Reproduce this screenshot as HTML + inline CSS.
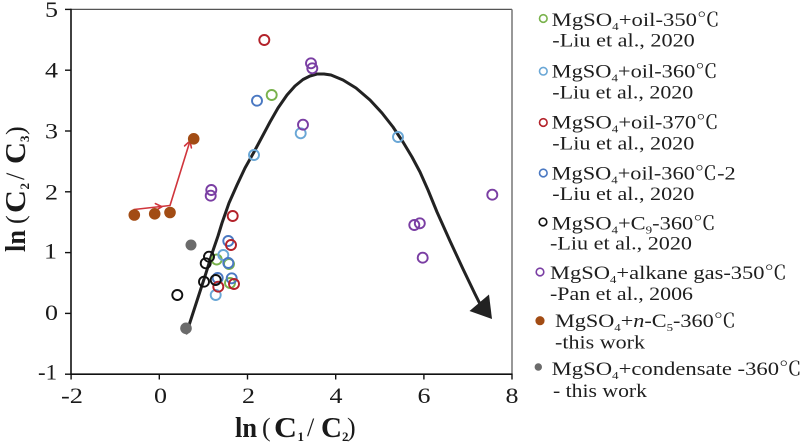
<!DOCTYPE html>
<html>
<head>
<meta charset="utf-8">
<style>
html,body{margin:0;padding:0;background:#fff;}
svg{display:block;}
text{font-family:"Liberation Serif","Noto Serif CJK SC",serif;}
</style>
</head>
<body>
<svg width="800" height="444" viewBox="0 0 800 444" xmlns="http://www.w3.org/2000/svg">
<rect x="0" y="0" width="800" height="444" fill="#fff"/>

<!-- frame -->
<line x1="71" y1="9.4" x2="512" y2="9.4" stroke="#555" stroke-width="1.3"/>
<line x1="512" y1="9.4" x2="512" y2="374.2" stroke="#777" stroke-width="1.5"/>
<line x1="71" y1="8.8" x2="71" y2="374.8" stroke="#111" stroke-width="1.6"/>
<line x1="70.2" y1="374.2" x2="512.5" y2="374.2" stroke="#111" stroke-width="1.6"/>

<!-- y ticks -->
<g stroke="#111" stroke-width="1.4">
<line x1="65" y1="9.4" x2="71" y2="9.4"/>
<line x1="65" y1="70.2" x2="71" y2="70.2"/>
<line x1="65" y1="131" x2="71" y2="131"/>
<line x1="65" y1="191.8" x2="71" y2="191.8"/>
<line x1="65" y1="252.6" x2="71" y2="252.6"/>
<line x1="65" y1="313.4" x2="71" y2="313.4"/>
<line x1="65" y1="374.2" x2="71" y2="374.2"/>
<!-- x ticks -->
<line x1="71.1" y1="374" x2="71.1" y2="379.5"/>
<line x1="159.3" y1="374" x2="159.3" y2="379.5"/>
<line x1="247.5" y1="374" x2="247.5" y2="379.5"/>
<line x1="335.7" y1="374" x2="335.7" y2="379.5"/>
<line x1="423.9" y1="374" x2="423.9" y2="379.5"/>
<line x1="512" y1="374" x2="512" y2="379.5"/>
</g>

<!-- y tick labels -->
<g font-size="22" fill="#1a1a1a">
<text x="45" y="17" textLength="13" lengthAdjust="spacingAndGlyphs">5</text>
<text x="45" y="77.5" textLength="13" lengthAdjust="spacingAndGlyphs">4</text>
<text x="45" y="138.5" textLength="13" lengthAdjust="spacingAndGlyphs">3</text>
<text x="45" y="199.5" textLength="13" lengthAdjust="spacingAndGlyphs">2</text>
<text x="44" y="258.5" textLength="13" lengthAdjust="spacingAndGlyphs">1</text>
<text x="45" y="320" textLength="13" lengthAdjust="spacingAndGlyphs">0</text>
<text x="38" y="379.5" textLength="19" lengthAdjust="spacingAndGlyphs">-1</text>
</g>
<!-- x tick labels -->
<g font-size="22" fill="#1a1a1a">
<text x="61" y="403" textLength="22" lengthAdjust="spacingAndGlyphs">-2</text>
<text x="154" y="403" textLength="13" lengthAdjust="spacingAndGlyphs">0</text>
<text x="242" y="403" textLength="13" lengthAdjust="spacingAndGlyphs">2</text>
<text x="329.5" y="403" textLength="13" lengthAdjust="spacingAndGlyphs">4</text>
<text x="417.5" y="403" textLength="13" lengthAdjust="spacingAndGlyphs">6</text>
<text x="505.5" y="403" textLength="13" lengthAdjust="spacingAndGlyphs">8</text>
</g>

<!-- x axis title -->
<g font-weight="bold" fill="#1a1a1a" font-size="28">
<text x="235" y="437" textLength="22" lengthAdjust="spacingAndGlyphs">ln</text>
<text x="262" y="436" font-weight="normal" font-size="26">(</text>
<text x="274" y="437" textLength="23" lengthAdjust="spacingAndGlyphs">C</text>
<text x="297.5" y="441" font-size="13">1</text>
<text x="307" y="436" font-weight="normal" font-size="26">/</text>
<text x="321" y="437" textLength="21" lengthAdjust="spacingAndGlyphs">C</text>
<text x="342" y="441" font-size="13">2</text>
<text x="347" y="436" font-weight="normal" font-size="26">)</text>
</g>

<!-- y axis title -->
<g transform="translate(25,252) rotate(-90)" font-weight="bold" fill="#1a1a1a" font-size="28">
<text x="0" y="0" textLength="22" lengthAdjust="spacingAndGlyphs">ln</text>
<text x="28" y="-1" font-weight="normal" font-size="26">(</text>
<text x="39" y="0" textLength="23" lengthAdjust="spacingAndGlyphs">C</text>
<text x="62.5" y="4" font-size="13">2</text>
<text x="72" y="-1" font-weight="normal" font-size="26">/</text>
<text x="88" y="0" textLength="22" lengthAdjust="spacingAndGlyphs">C</text>
<text x="110" y="4" font-size="13">3</text>
<text x="117" y="-1" font-weight="normal" font-size="26">)</text>
</g>

<!-- trend curve -->
<polyline fill="none" stroke="#222" stroke-width="3" stroke-linejoin="round" stroke-linecap="round"
points="186.5,333 193,313 199.5,293 206,273 212.5,252 218,236 222,223 229,203 237,185 245,168 254,152 262,137 270,122 278,108 287,95 295,86 303,79.5 310,76 317,74 324,74 331,75 343,80 356,88 370,100 382,113 393,127 403,142 412,157 420,172 428,190 437,212 450,241 463,269 475,294 481,306"/>
<polygon points="492,319 469.5,311 489,294.5" fill="#222"/>

<!-- red arrows -->
<g fill="none" stroke="#d0353c" stroke-width="1.6" stroke-linejoin="round" stroke-linecap="round">
<polyline points="134,209.5 170,205.5 190,141"/>
<polyline points="155.4,203.6 162,206.7 154.8,210.9"/>
<polyline points="184.6,145.9 190,141 191.4,147.9"/>
</g>

<!-- data: open circles -->
<g fill="none" stroke-width="1.9">
<!-- green 350 -->
<g stroke="#79b24c">
<circle cx="271.7" cy="95" r="5"/>
<circle cx="216.7" cy="259.5" r="5"/>
<circle cx="229" cy="264" r="5"/>
<circle cx="230" cy="283" r="5"/>
</g>
<!-- light blue 360 -->
<g stroke="#6aa7d6">
<circle cx="254" cy="155" r="5"/>
<circle cx="300.7" cy="133.3" r="5"/>
<circle cx="398" cy="137" r="5"/>
<circle cx="223.3" cy="255" r="5"/>
<circle cx="215.7" cy="295" r="5"/>
</g>
<!-- steel blue 360-2 -->
<g stroke="#4a78c2">
<circle cx="257" cy="100.7" r="5"/>
<circle cx="228.3" cy="241" r="5"/>
<circle cx="228.3" cy="263" r="5"/>
<circle cx="217.7" cy="278" r="5"/>
<circle cx="231.7" cy="278.3" r="5"/>
</g>
<!-- red 370 -->
<g stroke="#b3222a">
<circle cx="264.3" cy="40" r="5"/>
<circle cx="232.7" cy="216" r="5"/>
<circle cx="231" cy="245" r="5"/>
<circle cx="218.3" cy="286.7" r="5"/>
<circle cx="234" cy="284" r="5"/>
</g>
<!-- black C9 -->
<g stroke="#111">
<circle cx="209" cy="256.7" r="5"/>
<circle cx="205.7" cy="263.3" r="5"/>
<circle cx="204" cy="281.7" r="5"/>
<circle cx="215.7" cy="280" r="5"/>
<circle cx="177.3" cy="295" r="5"/>
</g>
<!-- purple -->
<g stroke="#7a3ea3">
<circle cx="311" cy="63.3" r="5"/>
<circle cx="312.3" cy="68.3" r="5"/>
<circle cx="303" cy="124.7" r="5"/>
<circle cx="211.3" cy="190" r="5"/>
<circle cx="210.7" cy="195.7" r="5"/>
<circle cx="492.3" cy="194.7" r="5"/>
<circle cx="414.3" cy="225" r="5"/>
<circle cx="419.8" cy="223.3" r="5"/>
<circle cx="422.7" cy="257.7" r="5"/>
</g>
</g>

<!-- filled -->
<g fill="#a24c14">
<circle cx="134.3" cy="215" r="5.8"/>
<circle cx="154.7" cy="213.8" r="5.8"/>
<circle cx="170" cy="212.5" r="5.8"/>
<circle cx="193.7" cy="138.8" r="5.8"/>
</g>
<g fill="#6b6b6b">
<circle cx="191" cy="245" r="5.5"/>
<circle cx="186" cy="328.3" r="5.8"/>
</g>

<!-- legend markers -->
<g fill="none" stroke-width="1.6">
<circle cx="543.3" cy="18.5" r="3.8" stroke="#79b24c"/>
<circle cx="543.3" cy="71.2" r="3.8" stroke="#6aa7d6"/>
<circle cx="543.3" cy="122.5" r="3.8" stroke="#b3222a"/>
<circle cx="543.3" cy="173" r="3.8" stroke="#4a78c2"/>
<circle cx="543" cy="222" r="3.8" stroke="#111"/>
<circle cx="540" cy="272" r="3.8" stroke="#7a3ea3"/>
</g>
<circle cx="540" cy="320.7" r="4.6" fill="#a24c14"/>
<circle cx="538.3" cy="367" r="3.7" fill="#6b6b6b"/>

<!-- legend text -->
<g font-size="19" fill="#1e1e1e">
<text x="551.7" y="26" textLength="168" lengthAdjust="spacingAndGlyphs">MgSO<tspan font-size="11" dy="4">4</tspan><tspan dy="-4">+oil-350℃</tspan></text>
<text x="552.3" y="46.5" textLength="142.5" lengthAdjust="spacingAndGlyphs">-Liu et al., 2020</text>

<text x="551.7" y="77.5" textLength="166" lengthAdjust="spacingAndGlyphs">MgSO<tspan font-size="11" dy="4">4</tspan><tspan dy="-4">+oil-360℃</tspan></text>
<text x="552.3" y="98.5" textLength="141" lengthAdjust="spacingAndGlyphs">-Liu et al., 2020</text>

<text x="551.7" y="128.5" textLength="167" lengthAdjust="spacingAndGlyphs">MgSO<tspan font-size="11" dy="4">4</tspan><tspan dy="-4">+oil-370℃</tspan></text>
<text x="552.3" y="149.5" textLength="142" lengthAdjust="spacingAndGlyphs">-Liu et al., 2020</text>

<text x="551.7" y="179.5" textLength="184" lengthAdjust="spacingAndGlyphs">MgSO<tspan font-size="11" dy="4">4</tspan><tspan dy="-4">+oil-360℃-2</tspan></text>
<text x="552.3" y="200" textLength="142" lengthAdjust="spacingAndGlyphs">-Liu et al., 2020</text>

<text x="551.7" y="229.5" textLength="164" lengthAdjust="spacingAndGlyphs">MgSO<tspan font-size="11" dy="4">4</tspan><tspan dy="-4">+C</tspan><tspan font-size="11" dy="4">9</tspan><tspan dy="-4">-360℃</tspan></text>
<text x="550" y="249.5" textLength="142" lengthAdjust="spacingAndGlyphs">-Liu et al., 2020</text>

<text x="550" y="279" textLength="237" lengthAdjust="spacingAndGlyphs">MgSO<tspan font-size="11" dy="4">4</tspan><tspan dy="-4">+alkane gas-350℃</tspan></text>
<text x="550" y="300" textLength="143" lengthAdjust="spacingAndGlyphs">-Pan et al., 2006</text>

<text x="555" y="327" textLength="181" lengthAdjust="spacingAndGlyphs">MgSO<tspan font-size="11" dy="4">4</tspan><tspan dy="-4">+</tspan><tspan font-style="italic">n</tspan><tspan>-C</tspan><tspan font-size="11" dy="4">5</tspan><tspan dy="-4">-360℃</tspan></text>
<text x="555" y="348.5" textLength="90" lengthAdjust="spacingAndGlyphs">-this work</text>

<text x="551.7" y="375" textLength="250" lengthAdjust="spacingAndGlyphs">MgSO<tspan font-size="11" dy="4">4</tspan><tspan dy="-4">+condensate -360℃</tspan></text>
<text x="553" y="397" textLength="94" lengthAdjust="spacingAndGlyphs">- this work</text>
</g>
</svg>
</body>
</html>
